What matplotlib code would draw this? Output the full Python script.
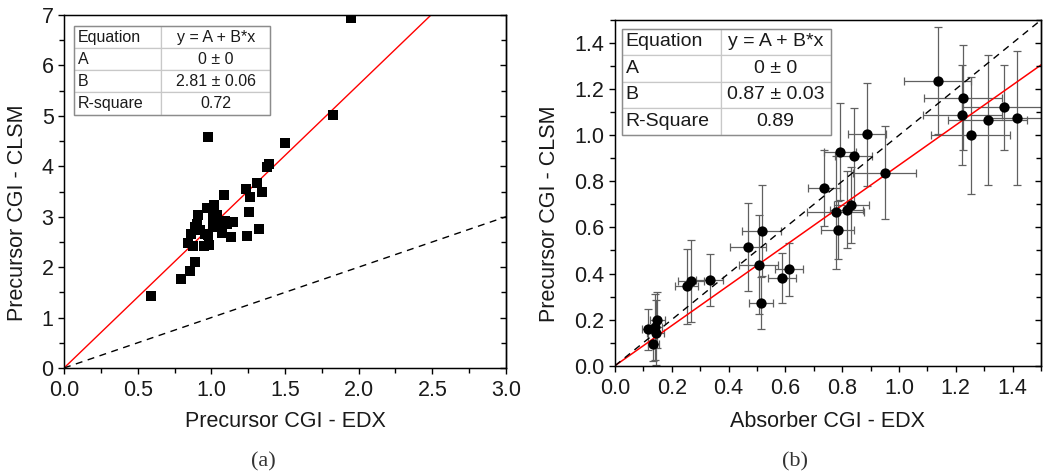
import matplotlib
matplotlib.use("Agg")
import numpy as np
from matplotlib import pyplot as plt
from matplotlib.ticker import MultipleLocator, FormatStrFormatter
from matplotlib.table import Table
from matplotlib.patches import Rectangle

plt.rcParams['font.family'] = ['Liberation Sans', 'DejaVu Sans']

# (a) precursor CGI: EDX vs CLSM
pre_edx = [1.946, 1.828, 1.502, 0.980, 1.394, 1.376, 1.312, 1.236, 1.344, 1.263,
           1.086, 1.256, 1.326, 1.244, 1.136, 1.149, 1.020, 0.973, 0.908, 1.037,
           1.093, 0.889, 0.923, 0.862, 0.980, 1.014, 1.071, 1.059, 0.844, 0.878,
           0.950, 0.984, 0.889, 0.855, 0.796, 0.589, 1.037, 1.010, 0.900, 0.960,
           1.105]
pre_clsm = [6.94, 5.01, 4.47, 4.58, 4.05, 3.99, 3.66, 3.55, 3.49, 3.39,
            3.43, 3.09, 2.76, 2.61, 2.59, 2.90, 3.23, 3.17, 3.04, 3.04,
            2.92, 2.79, 2.74, 2.65, 2.64, 2.80, 2.67, 2.80, 2.47, 2.41,
            2.41, 2.43, 2.10, 1.93, 1.77, 1.43, 2.86, 2.97, 2.86, 2.66,
            2.86]
fit_a = ["Equation", "y = A + B*x", "A", "0 ± 0", "B", "2.81 ± 0.06", "R-square", "0.72"]
slope_a = 2.81

# (b) absorber CGI: EDX vs CLSM, with error bars
abs_edx = [1.136, 1.225, 1.223, 1.252, 1.312, 1.370, 1.415, 0.950, 0.887, 0.793,
           0.840, 0.736, 0.777, 0.784, 0.816, 0.832, 0.516, 0.468, 0.506, 0.514,
           0.588, 0.613, 0.252, 0.268, 0.334, 0.117, 0.149, 0.140, 0.143, 0.135]
abs_clsm = [1.237, 1.163, 1.087, 0.999, 1.067, 1.121, 1.075, 0.838, 1.004, 0.928,
            0.908, 0.771, 0.665, 0.590, 0.677, 0.696, 0.586, 0.515, 0.439, 0.273,
            0.380, 0.419, 0.345, 0.368, 0.371, 0.158, 0.198, 0.169, 0.143, 0.093]
abs_edx_err = [0.119, 0.136, 0.140, 0.139, 0.139, 0.147, 0.100, 0.111, 0.066, 0.056,
               0.066, 0.056, 0.100, 0.058, 0.058, 0.061, 0.069, 0.064, 0.068, 0.042,
               0.048, 0.048, 0.042, 0.046, 0.048, 0.021, 0.026, 0.025, 0.031, 0.020]
abs_clsm_err = [0.231, 0.227, 0.218, 0.252, 0.283, 0.185, 0.289, 0.203, 0.224, 0.211,
                0.209, 0.164, 0.245, 0.126, 0.166, 0.165, 0.198, 0.189, 0.213, 0.112,
                0.107, 0.115, 0.162, 0.178, 0.112, 0.090, 0.123, 0.144, 0.140, 0.072]
fit_b = ["Equation", "y = A + B*x", "A", "0 ± 0", "B", "0.87 ± 0.03", "R-Square", "0.89"]
slope_b = 0.87

W, H = 1043, 474
FS = 15.5
fig = plt.figure(figsize=(W / 100, H / 100), dpi=100)
axL = fig.add_axes([64 / W, 1 - 368 / H, (506 - 64) / W, (368 - 15) / H])
axR = fig.add_axes([615 / W, 1 - 365.7 / H, (1041 - 615) / W, (365.7 - 20) / H])


def style_axes(ax, xmaj, xmin, ymaj, ymin, xfmt, yfmt):
    for s in ax.spines.values():
        s.set_linewidth(1.0)
    ax.xaxis.set_major_locator(MultipleLocator(xmaj))
    ax.xaxis.set_minor_locator(MultipleLocator(xmin))
    ax.yaxis.set_major_locator(MultipleLocator(ymaj))
    ax.yaxis.set_minor_locator(MultipleLocator(ymin))
    ax.xaxis.set_major_formatter(FormatStrFormatter(xfmt))
    ax.yaxis.set_major_formatter(FormatStrFormatter(yfmt))
    ax.tick_params(which='both', direction='out', top=False, right=False,
                   labelsize=FS, width=1.0, labelcolor='#1a1a1a')
    ax.tick_params(which='major', length=4.5)
    ax.tick_params(which='minor', length=3.5)
    ax.tick_params(axis='x', pad=4)
    ax.tick_params(axis='y', pad=3)
    # mirrored ticks on the right spine, pointing inward
    tw = ax.twinx()
    tw.set_ylim(ax.get_ylim())
    tw.yaxis.set_major_locator(MultipleLocator(ymaj))
    tw.yaxis.set_minor_locator(MultipleLocator(ymin))
    tw.tick_params(which='both', direction='in', labelright=False, width=1.0)
    tw.tick_params(which='major', length=4.5)
    tw.tick_params(which='minor', length=3.5)
    tw.spines['right'].set_linewidth(1.0)


def fit_table(ax, texts, bbox, col0, fs):
    x0, y0, w, h = bbox
    tb = Table(ax, bbox=bbox)
    rows = len(texts) // 2
    for r in range(rows):
        c0 = tb.add_cell(r, 0, col0, 1 / rows, text=texts[2 * r], loc='left',
                         edgecolor='#c8c8c8', facecolor='white')
        c0.PAD = 0.04
        tb.add_cell(r, 1, 1 - col0, 1 / rows, text=texts[2 * r + 1], loc='center',
                    edgecolor='#c8c8c8', facecolor='white')
    tb.auto_set_font_size(False)
    tb.set_fontsize(fs)
    for cell in tb.get_celld().values():
        cell.get_text().set_color('#1a1a1a')
        cell.set_linewidth(0.9)
    ax.add_table(tb)
    ax.add_patch(Rectangle((x0, y0), w, h, transform=ax.transAxes, fill=False,
                           edgecolor='#8c8c8c', linewidth=1.0, zorder=10))


# ---- (a)
axL.set_xlim(0, 3)
axL.set_ylim(0, 7)
xx = np.array([0, 3])
axL.plot(xx, slope_a * xx, color='red', lw=1.0, zorder=2)
axL.plot(xx, xx, color='black', lw=1.0, ls=(0, (5, 4)), zorder=2)
axL.scatter(pre_edx, pre_clsm, marker='s', s=50, color='black', zorder=3, linewidths=0)
axL.set_xlabel("Precursor CGI - EDX", fontsize=FS, color='#1a1a1a')
axL.set_ylabel("Precursor CGI - CLSM", fontsize=FS, color='#1a1a1a')
axL.xaxis.set_label_coords(0.5, -0.122)
axL.yaxis.set_label_coords(-0.081, 0.44)
style_axes(axL, 0.5, 0.25, 1, 0.5, '%.1f', '%d')
fit_table(axL, fit_a, [0.023, 0.718, 0.444, 0.25], 0.442, 11.5)

# ---- (b)
axR.set_xlim(0, 1.5)
axR.set_ylim(0, 1.5)
xx = np.array([0, 1.5])
axR.plot(xx, slope_b * xx, color='red', lw=1.1, zorder=2)
axR.plot(xx, xx, color='black', lw=1.0, ls=(0, (5, 4)), zorder=2)
axR.errorbar(abs_edx, abs_clsm, xerr=abs_edx_err, yerr=abs_clsm_err, fmt='none',
             ecolor='#606060', elinewidth=0.9, capsize=3, capthick=0.9, zorder=1)
axR.scatter(abs_edx, abs_clsm, marker='o', s=55, color='black', zorder=3, linewidths=0)
axR.set_xlabel("Absorber CGI - EDX", fontsize=FS, color='#1a1a1a')
axR.set_ylabel("Precursor CGI - CLSM", fontsize=FS, color='#1a1a1a')
axR.xaxis.set_label_coords(0.5, -0.131)
axR.yaxis.set_label_coords(-0.129, 0.44)
style_axes(axR, 0.2, 0.1, 0.2, 0.1, '%.1f', '%.1f')
fit_table(axR, fit_b, [0.016, 0.668, 0.49, 0.307], 0.474, 14)

fig.text(263 / W, 1 - 462 / H, "(a)", ha='center', va='center', fontsize=16,
         family=['Liberation Serif', 'DejaVu Serif'], color='#333333')
fig.text(795 / W, 1 - 462 / H, "(b)", ha='center', va='center', fontsize=16,
         family=['Liberation Serif', 'DejaVu Serif'], color='#333333')

fig.savefig("out.png", dpi=100)
